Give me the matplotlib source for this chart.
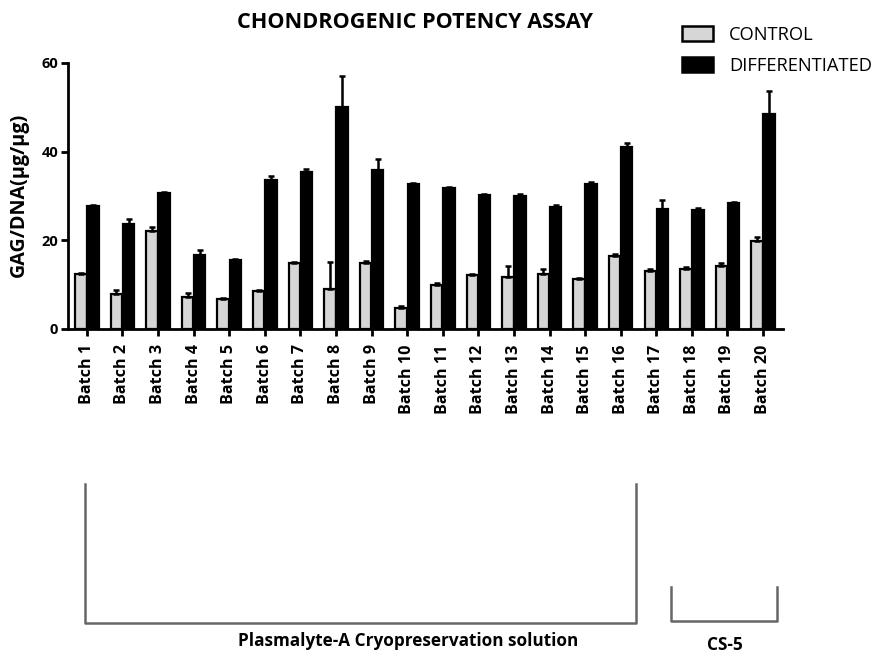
import matplotlib
matplotlib.use("Agg")
import matplotlib.pyplot as plt
import numpy as np
from matplotlib.lines import Line2D
from matplotlib.patches import Patch

batches = [f"Batch {i}" for i in range(1, 21)]
control = [12.3, 8.0, 22.0, 7.2, 6.8, 8.5, 14.8, 9.0, 15.0, 4.8,
           10.0, 12.2, 11.8, 12.4, 11.3, 16.5, 13.0, 13.5, 14.2, 19.8]
control_err = [0.3, 0.9, 1.1, 1.0, 0.3, 0.3, 0.4, 6.2, 0.3, 0.5,
               0.3, 0.3, 2.5, 1.2, 0.3, 0.4, 0.6, 0.4, 0.6, 1.0]
diff = [27.8, 23.6, 30.6, 16.6, 15.5, 33.6, 35.5, 50.0, 35.8, 32.6,
        31.8, 30.2, 29.9, 27.5, 32.8, 41.0, 27.0, 26.8, 28.4, 48.5]
diff_err = [0.2, 1.3, 0.4, 1.3, 0.3, 0.8, 0.6, 7.0, 2.6, 0.4,
            0.3, 0.3, 0.6, 0.4, 0.3, 1.0, 2.2, 0.6, 0.3, 5.2]
yticks = [0, 20, 40, 60]
title = "CHONDROGENIC POTENCY ASSAY"
ylabel = "GAG/DNA(\u03bcg/\u03bcg)"
series_names = ["CONTROL", "DIFFERENTIATED"]
group_names = ["Plasmalyte-A Cryopreservation solution", "CS-5"]

plt.rcParams['font.family'] = ['Open Sans', 'DejaVu Sans']

W, H = 881, 653
fig = plt.figure(figsize=(W / 100, H / 100), dpi=100)
ax = fig.add_axes([68 / W, 1 - 329 / H, (783 - 68) / W, (329 - 63) / H])
renderer = fig.canvas.get_renderer()


def fit(txt, target, dim="w"):
    bb = txt.get_window_extent(renderer)
    cur = bb.width if dim == "w" else bb.height
    fs = txt.get_fontsize() * target / cur
    txt.set_fontsize(fs)
    return fs


x = np.arange(len(batches))
bw = 0.32
off = 0.17
ax.bar(x - off, control, width=bw, color="#d6d6d6", edgecolor="black", linewidth=1.6, zorder=2)
ax.bar(x + off, diff, width=bw, color="black", edgecolor="black", linewidth=1.6, zorder=2)
ax.errorbar(x - off, control, yerr=[np.zeros(len(control)), control_err], fmt="none",
            ecolor="black", elinewidth=1.8, capsize=2.5, capthick=1.8, zorder=3)
ax.errorbar(x + off, diff, yerr=[np.zeros(len(diff)), diff_err], fmt="none",
            ecolor="black", elinewidth=1.8, capsize=2.5, capthick=1.8, zorder=3)

ax.set_xlim(-0.53, 19.56)
ax.set_ylim(0, 60)
ax.set_yticks(yticks)
ax.set_yticklabels([str(t) for t in yticks], fontsize=10.5, fontweight="bold")
ax.set_xticks(x)
ax.set_xticklabels(batches, rotation=90, fontsize=10, fontweight="bold", va="top")
ax.tick_params(axis="both", width=2, length=5, direction="out", pad=2)
ax.tick_params(axis="x", pad=6)
for s in ["top", "right"]:
    ax.spines[s].set_visible(False)
for s in ["left", "bottom"]:
    ax.spines[s].set_linewidth(2)

# size x tick labels to the reference
xt = ax.get_xticklabels()
fsx = fit(xt[0], 60, "h")
for t in xt:
    t.set_fontsize(fsx)

yl = ax.set_ylabel(ylabel, fontsize=12, fontweight="bold")
fit(yl, 164, "h")
ax.yaxis.set_label_coords(-(68 - 29) / (783 - 68), (329 - 195) / (329 - 63))

tt = fig.text(415 / W, 1 - 23 / H, title, ha="center", va="center", fontsize=13, fontweight="bold")
fit(tt, 355, "w")

probe = fig.text(0, 0, series_names[0], fontsize=12)
lfs = fit(probe, 85, "w")
probe.remove()
fpx = lfs * 100 / 72
handles = [Patch(facecolor="#d6d6d6", edgecolor="black", linewidth=1.8),
           Patch(facecolor="black", edgecolor="black", linewidth=1.8)]
fig.legend(handles, series_names, loc="upper left", bbox_to_anchor=(682 / W, 1 - 26 / H),
           frameon=False, fontsize=lfs, handlelength=31 / fpx, handleheight=16 / fpx,
           handletextpad=16 / fpx, labelspacing=0.68, borderaxespad=0, borderpad=0)


def fl(xs, ys):
    fig.add_artist(Line2D([v / W for v in xs], [1 - v / H for v in ys],
                          transform=fig.transFigure, color="#666666", linewidth=1.8))


fl([85, 85, 636, 636], [484, 623, 623, 484])
fl([671, 671, 777, 777], [587, 621, 621, 587])
g1 = fig.text(408 / W, 1 - 641 / H, group_names[0], ha="center", va="center", fontsize=11, fontweight="bold")
fit(g1, 340, "w")
g2 = fig.text(725 / W, 1 - 645 / H, group_names[1], ha="center", va="center", fontsize=11, fontweight="bold")
fit(g2, 36, "w")

fig.savefig("out.png", dpi=100)
